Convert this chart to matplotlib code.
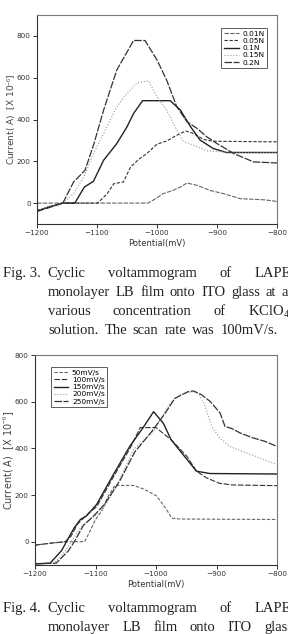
import numpy as np
import matplotlib
matplotlib.use('Agg')
import matplotlib.pyplot as plt

plt.rcParams['mathtext.fontset'] = 'custom'
plt.rcParams['mathtext.rm'] = 'Liberation Serif'

# ---- Fig. 3 data: KClO4 concentration series ----
conc_labels = ['0.01N', '0.05N', '0.1N', '0.15N', '0.2N']

pot_001 = [-1200, -1015, -1000, -990, -973, -961, -950, -933, -912, -889, -861, -822, -800]
cur_001 = [0, 0, 25, 45, 61, 77, 96, 85, 61, 45, 21, 16, 8]

pot_005 = [-1200, -1180, -1157, -1099, -1083, -1072, -1056, -1044, -1031, -1017, -1000,
           -983, -967, -952, -939, -922, -906, -800]
cur_005 = [-35, -18, 0, 0, 45, 93, 101, 173, 208, 237, 282, 298, 325, 345, 333, 304, 296, 293]

pot_01 = [-1200, -1180, -1157, -1137, -1121, -1106, -1089, -1067, -1050, -1039, -1024,
          -978, -961, -944, -928, -906, -884, -800]
cur_01 = [-38, -18, 0, 0, 77, 104, 205, 285, 365, 429, 490, 490, 445, 365, 301, 261, 242, 242]

pot_015 = [-1200, -1180, -1157, -1139, -1122, -1106, -1089, -1067, -1050, -1033, -1014,
           -1000, -984, -967, -956, -933, -917, -884, -800]
cur_015 = [-36, -18, 0, 45, 125, 237, 333, 461, 525, 576, 585, 509, 445, 349, 296, 269,
           250, 244, 243]

pot_02 = [-1200, -1178, -1157, -1139, -1120, -1105, -1089, -1067, -1039, -1020, -1000,
          -984, -967, -950, -933, -917, -900, -872, -839, -800]
cur_02 = [-40, -20, 0, 101, 157, 285, 445, 637, 778, 778, 685, 589, 461, 389, 357, 317,
          285, 237, 197, 192]

# ---- Fig. 4 data: scan rate series ----
rate_labels = ['50mV/s', '100mV/s', '150mV/s', '200mV/s', '250mV/s']

pot_50 = [-1200, -1185, -1160, -1140, -1118, -1110, -1100, -1090, -1080, -1068, -1037,
          -1020, -999, -983, -974, -960, -800]
cur_50 = [-15, -10, -3, 0, 0, 40, 95, 130, 190, 241, 241, 225, 196, 139, 101, 97, 95]

pot_100 = [-1200, -1170, -1150, -1140, -1130, -1120, -1110, -1098, -1071, -1043, -1026,
           -1000, -975, -949, -933, -917, -895, -873, -800]
cur_100 = [-15, -5, 0, 25, 75, 100, 125, 150, 275, 400, 489, 489, 437, 366, 302, 274,
           250, 243, 240]

pot_150 = [-1200, -1175, -1156, -1148, -1135, -1125, -1115, -1098, -1071, -1043, -1021,
           -1004, -988, -975, -949, -933, -911, -800]
cur_150 = [-95, -92, -38, 0, 60, 95, 110, 160, 285, 410, 490, 557, 508, 437, 353, 302,
           292, 290]

pot_200 = [-1200, -1168, -1150, -1140, -1125, -1110, -1090, -1065, -1037, -1007, -993,
           -977, -960, -938, -930, -920, -908, -895, -878, -850, -820, -800]
cur_200 = [-95, -92, -40, 0, 60, 95, 130, 240, 395, 465, 522, 593, 631, 643, 636, 590,
           494, 445, 408, 380, 350, 331]

pot_250 = [-1200, -1165, -1145, -1135, -1120, -1105, -1085, -1060, -1035, -1007, -985,
           -969, -947, -938, -925, -910, -894, -886, -875, -861, -840, -820, -800]
cur_250 = [-95, -92, -40, 0, 70, 105, 160, 260, 385, 472, 550, 614, 643, 646, 630, 600,
           551, 494, 485, 466, 445, 430, 408]

x_ticks = [-1200, -1100, -1000, -900, -800]

W, H = 288, 634
fig = plt.figure(figsize=(W / 100, H / 100), dpi=100)


def px_axes(l, t, r, b):
    return fig.add_axes([l / W, 1 - b / H, (r - l) / W, (b - t) / H])


def style_axes(ax, ylim, yticks, lab_x, lab_size):
    ax.set_xlim(-1200, -800)
    ax.set_ylim(*ylim)
    ax.set_xticks(x_ticks)
    ax.set_yticks(yticks)
    ax.tick_params(labelsize=5.2, length=3, width=0.7, pad=1.5, colors='#333333')
    for s in ['top', 'right']:
        ax.spines[s].set_color('#777777')
        ax.spines[s].set_linewidth(0.8)
    for s in ['left', 'bottom']:
        ax.spines[s].set_color('#333333')
        ax.spines[s].set_linewidth(0.8)
    ax.set_xlabel('Potential(mV)', fontsize=6, color='#333333', labelpad=2)
    ax.set_ylabel('Current( A)  [X 10$^{-6}$]', fontsize=lab_size, color='#444444')
    ax.yaxis.set_label_coords(lab_x, 0.5)


styles_top = [
    dict(color='#666666', lw=0.8, dashes=(4, 1.2)),
    dict(color='#333333', lw=0.8, dashes=(3, 1.5)),
    dict(color='#222222', lw=1.0, ls='-'),
    dict(color='#999999', lw=0.8, ls=':'),
    dict(color='#333333', lw=0.9, dashes=(6, 1.2)),
]
styles_bot = [
    dict(color='#666666', lw=0.8, dashes=(3, 1.5)),
    dict(color='#333333', lw=0.8, dashes=(5, 1.5)),
    dict(color='#222222', lw=1.0, ls='-'),
    dict(color='#999999', lw=0.8, ls=':'),
    dict(color='#333333', lw=0.9, dashes=(6, 1.2)),
]

leg_kw = dict(fontsize=5.3, frameon=True, fancybox=False, edgecolor='#333333',
              borderaxespad=0, handlelength=2.0, handletextpad=0.5,
              labelspacing=0.15, borderpad=0.35)

# top chart
ax1 = px_axes(37, 15, 277, 224)
top_series = [(pot_001, cur_001), (pot_005, cur_005), (pot_01, cur_01),
              (pot_015, cur_015), (pot_02, cur_02)]
for (p, c), lab, st in zip(top_series, conc_labels, styles_top):
    ax1.plot(p, c, label=lab, **st)
style_axes(ax1, (-100, 900), [0, 200, 400, 600, 800], -0.08, 6.5)
leg1 = ax1.legend(loc='upper right', bbox_to_anchor=(0.958, 0.938), **leg_kw)
leg1.get_frame().set_linewidth(0.7)

# bottom chart
ax2 = px_axes(35, 355, 277, 565)
bot_series = [(pot_50, cur_50), (pot_100, cur_100), (pot_150, cur_150),
              (pot_200, cur_200), (pot_250, cur_250)]
for (p, c), lab, st in zip(bot_series, rate_labels, styles_bot):
    ax2.plot(p, c, label=lab, **st)
style_axes(ax2, (-100, 800), [0, 200, 400, 600, 800], -0.08, 7.0)
leg2 = ax2.legend(loc='upper left', bbox_to_anchor=(0.066, 0.943), **leg_kw)
leg2.get_frame().set_linewidth(0.7)

# captions (justified lines)
fig.canvas.draw()
renderer = fig.canvas.get_renderer()
cap_font = dict(family=['Liberation Serif', 'DejaVu Serif'], fontsize=10.5, color='#222222')


def put_line(words, x0, x1, base_y):
    texts = [fig.text(0, 1 - base_y / H, w, va='baseline', ha='left', **cap_font) for w in words]
    widths = [t.get_window_extent(renderer).width for t in texts]
    gap = (x1 - x0 - sum(widths)) / (len(words) - 1)
    x = x0
    for t, w in zip(texts, widths):
        t.set_x(x / W)
        x += w + gap


fig.text(3 / W, 1 - 277 / H, 'Fig. 3.', va='baseline', ha='left', **cap_font)
put_line(['Cyclic', 'voltammogram', 'of', 'LAPE'], 47, 291, 277)
put_line(['monolayer', 'LB', 'film', 'onto', 'ITO', 'glass', 'at', 'a'], 48, 288, 296)
put_line(['various', 'concentration', 'of', r'KClO$_\mathrm{4}$'], 48, 290, 315)
put_line('solution. The scan rate was 100mV/s.'.split(), 48, 278, 334)

fig.text(3 / W, 1 - 612 / H, 'Fig. 4.', va='baseline', ha='left', **cap_font)
put_line(['Cyclic', 'voltammogram', 'of', 'LAPE'], 47, 291, 612)
put_line(['monolayer', 'LB', 'film', 'onto', 'ITO', 'glass'], 48, 293, 631)

fig.savefig('out.png', dpi=100)
